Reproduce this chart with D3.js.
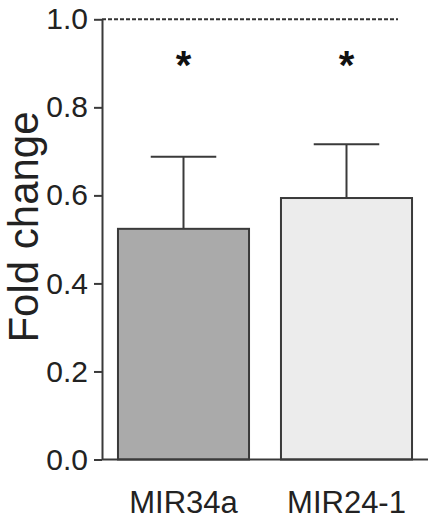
<html>
<head>
<style>
  body { margin: 0; background: #fff; }
  text { font-family: Arial, "Liberation Sans", sans-serif; }
</style>
</head>
<body>
<div id="chart"></div>
<script src="https://d3js.org/d3.v7.min.js"></script>
<script>
// data
var categories = ["MIR34a", "MIR24-1"];
var foldChange = [0.524, 0.594];
var errorUp = [0.164, 0.122];
var barColors = ["#aaaaaa", "#ececec"];
var yTicks = [0, 0.2, 0.4, 0.6, 0.8, 1.0];
var significant = [true, true];
var refLevel = 1.0;

var W = 439, H = 522;
var svg = d3.select("#chart").append("svg")
  .attr("width", W)
  .attr("height", H);

var y = d3.scaleLinear().domain([0, 1]).range([459.5, 19.3]);
var x = d3.scaleBand().domain(categories)
  .range([102, 428])
  .paddingInner(0.196)
  .paddingOuter(0.098);

var ink = "#3a3a3a";

// bars
svg.append("g").selectAll("rect")
  .data(categories)
  .enter()
  .append("rect")
  .attr("x", function(d) { return x(d); })
  .attr("y", function(d, i) { return y(foldChange[i]); })
  .attr("width", x.bandwidth())
  .attr("height", function(d, i) { return y(0) - y(foldChange[i]); })
  .attr("fill", function(d, i) { return barColors[i]; })
  .attr("stroke", ink)
  .attr("stroke-width", 2);

// error bars (upper only)
var eb = svg.append("g").attr("stroke", ink).attr("stroke-width", 2);
categories.forEach(function(c, i) {
  var cx = x(c) + x.bandwidth() / 2;
  var cap = x.bandwidth() * 0.25;
  eb.append("line")
    .attr("x1", cx).attr("x2", cx)
    .attr("y1", y(foldChange[i])).attr("y2", y(foldChange[i] + errorUp[i]));
  eb.append("line")
    .attr("x1", cx - cap).attr("x2", cx + cap)
    .attr("y1", y(foldChange[i] + errorUp[i])).attr("y2", y(foldChange[i] + errorUp[i]));
});

// dashed reference line at 1.0
svg.append("line")
  .attr("x1", 102).attr("x2", 398)
  .attr("y1", y(refLevel)).attr("y2", y(refLevel))
  .attr("stroke", "#333")
  .attr("stroke-width", 2)
  .attr("stroke-dasharray", "4,2");

// x axis baseline
svg.append("line")
  .attr("x1", 102).attr("x2", 428)
  .attr("y1", y(0)).attr("y2", y(0))
  .attr("stroke", ink)
  .attr("stroke-width", 2);

// y axis
var yAxis = svg.append("g")
  .attr("transform", "translate(102,0)")
  .call(d3.axisLeft(y).tickValues(yTicks).tickFormat(d3.format(".1f"))
    .tickSize(8).tickSizeOuter(0).tickPadding(6));
yAxis.select(".domain").attr("stroke", ink).attr("stroke-width", 2);
yAxis.selectAll(".tick line").attr("stroke", ink).attr("stroke-width", 2);
yAxis.selectAll(".tick text")
  .attr("fill", "#222")
  .style("font-size", "30px")
  .style("font-family", "Arial, 'Liberation Sans', sans-serif");

// category labels
svg.append("g").selectAll("text")
  .data(categories)
  .enter()
  .append("text")
  .attr("x", function(d) { return x(d) + x.bandwidth() / 2; })
  .attr("y", 513)
  .attr("text-anchor", "middle")
  .attr("fill", "#222")
  .style("font-size", "31px")
  .text(function(d) { return d; });

// significance stars
svg.append("g").selectAll("text")
  .data(categories.filter(function(d, i) { return significant[i]; }))
  .enter()
  .append("text")
  .attr("x", function(d) { return x(d) + x.bandwidth() / 2; })
  .attr("y", y(0.865))
  .attr("text-anchor", "middle")
  .attr("fill", "#111")
  .style("font-size", "40px")
  .style("font-weight", "bold")
  .text("*");

// y label
svg.append("text")
  .attr("transform", "translate(38,227) rotate(-90)")
  .attr("text-anchor", "middle")
  .attr("fill", "#222")
  .style("font-size", "42px")
  .text("Fold change");
</script>
</body>
</html>
